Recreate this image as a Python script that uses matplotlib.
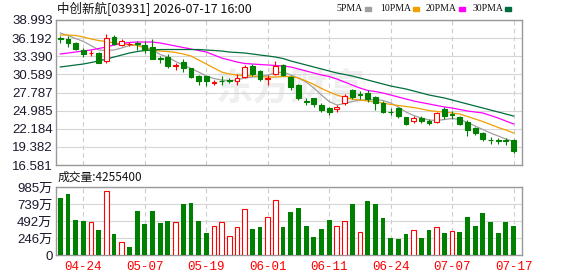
import matplotlib
matplotlib.use('Agg')
import matplotlib.pyplot as plt
from matplotlib.patches import Rectangle

plt.rcParams['font.family'] = ['Noto Sans CJK SC', 'DejaVu Sans']

# daily candles, 60 trading days
opens = [36.2, 36.05, 35.5, 34.4, 33.85, 33.9, 32.7, 36.3, 35.2, 35.25,
         35.4, 35.1, 34.8, 33.1, 33.3, 31.95, 32.5, 31.5, 30.4, 30.3,
         29.25, 29.6, 29.65, 29.5, 30.25, 31.9, 31.1, 29.9, 30.65, 32.0,
         30.2, 28.95, 26.4, 26.9, 25.85, 25.45, 25.2, 26.1, 28.2, 27.5,
         27.75, 27.1, 26.2, 24.85, 25.35, 23.95, 23.45, 23.8, 23.4, 23.3,
         25.2, 24.4, 23.95, 23.3, 22.25, 21.55, 20.5, 20.4, 20.45, 20.45]
highs = [36.5, 36.5, 35.6, 34.6, 34.3, 34.0, 36.8, 36.7, 36.0, 35.6,
         35.8, 35.7, 36.1, 33.4, 33.7, 32.4, 33.0, 31.6, 30.5, 30.4,
         29.7, 30.4, 30.0, 30.7, 32.0, 32.2, 31.3, 30.5, 32.6, 32.2,
         30.4, 29.1, 26.9, 27.0, 26.1, 25.5, 25.8, 27.5, 28.4, 28.0,
         28.15, 27.3, 26.4, 25.4, 25.6, 24.0, 24.15, 24.2, 23.7, 24.8,
         25.5, 25.0, 24.2, 23.5, 22.5, 21.7, 20.9, 20.8, 20.8, 20.6]
lows = [35.5, 34.8, 34.3, 33.2, 33.5, 32.3, 32.4, 35.1, 34.9, 34.9,
        34.3, 33.9, 32.9, 32.4, 31.6, 31.3, 31.0, 30.0, 28.9, 28.8,
        28.9, 29.0, 29.2, 29.0, 30.1, 30.3, 29.5, 29.0, 30.5, 30.3,
        28.2, 26.6, 25.8, 25.6, 24.7, 24.3, 24.8, 25.9, 26.8, 26.8,
        26.35, 25.1, 24.6, 24.3, 23.8, 22.7, 23.1, 23.1, 22.8, 23.1,
        23.7, 23.7, 22.7, 21.1, 21.2, 20.3, 19.9, 19.9, 19.7, 18.5]
closes = [36.1, 35.4, 34.5, 33.7, 33.95, 32.4, 36.2, 35.3, 35.75, 35.3,
          35.3, 34.4, 33.0, 32.95, 31.9, 32.05, 31.5, 30.25, 29.6, 29.5,
          29.35, 29.5, 29.55, 30.0, 31.7, 30.65, 29.8, 30.1, 31.9, 30.5,
          28.7, 27.0, 26.3, 26.0, 25.1, 24.8, 25.5, 27.25, 27.1, 27.35,
          26.75, 26.1, 24.85, 24.75, 24.15, 22.9, 23.8, 23.45, 23.05, 24.55,
          24.15, 24.25, 22.9, 22.0, 21.6, 20.55, 20.4, 20.3, 20.3, 18.8]

# volume in 万股, and whether the volume bar is drawn red (up day)
volumes = [830, 884, 507, 493, 473, 362, 927, 304, 183, 116,
           637, 449, 637, 464, 493, 473, 739, 753, 493, 319,
           415, 473, 275, 406, 666, 377, 406, 546, 797, 406,
           623, 681, 420, 261, 377, 507, 415, 488, 739, 328,
           782, 739, 536, 246, 232, 304, 357, 246, 357, 401,
           319, 343, 333, 550, 420, 608, 478, 319, 478, 425.54]
vol_red = [0, 0, 0, 0, 1, 0, 1, 0, 1, 0,
           0, 0, 0, 0, 0, 1, 0, 0, 0, 0,
           1, 1, 1, 1, 1, 0, 0, 1, 1, 0,
           0, 0, 0, 0, 0, 0, 1, 1, 0, 1,
           0, 0, 0, 0, 0, 0, 1, 0, 0, 1,
           0, 1, 0, 0, 0, 0, 0, 0, 0, 0]

ma5 = [36.98, 36.60, 36.13, 35.67, 35.05, 34.36, 34.28, 34.36, 34.67, 35.05,
       35.13, 34.82, 34.36, 33.66, 33.27, 32.58, 32.04, 31.50, 30.95, 30.34,
       29.95, 29.72, 29.61, 29.72, 30.03, 30.18, 30.26, 30.49, 30.80, 30.95,
       30.49, 30.03, 29.41, 28.48, 27.40, 26.39, 25.85, 26.08, 26.39, 26.63,
       26.63, 26.70, 26.55, 26.17, 25.55, 24.77, 24.23, 23.84, 23.53, 23.46,
       23.61, 23.77, 23.61, 23.15, 22.61, 22.07, 21.53, 21.06, 20.60, 20.21]
ma10 = [36.67, 36.67, 36.60, 36.37, 36.06, 35.82, 35.67, 35.44, 35.28, 35.21,
        35.05, 34.67, 34.36, 34.20, 34.12, 33.97, 33.74, 33.43, 32.81, 32.19,
        31.57, 30.95, 30.65, 30.49, 30.42, 30.34, 30.26, 30.18, 30.18, 30.26,
        30.26, 30.03, 29.57, 29.03, 28.41, 27.87, 27.40, 27.01, 26.78, 26.63,
        26.47, 26.32, 26.17, 25.93, 25.78, 25.62, 25.47, 25.24, 25.00, 24.85,
        24.77, 24.62, 24.46, 24.08, 23.69, 23.30, 22.84, 22.38, 21.99, 21.53]
ma20 = [33.74, 33.89, 34.05, 34.20, 34.36, 34.59, 34.82, 35.13, 35.36, 35.52,
        35.59, 35.59, 35.59, 35.44, 35.21, 34.97, 34.74, 34.51, 34.28, 34.05,
        33.58, 33.12, 32.81, 32.50, 32.27, 32.19, 32.11, 32.04, 31.96, 31.88,
        31.73, 31.42, 31.11, 30.80, 30.49, 30.26, 29.87, 29.41, 28.94, 28.48,
        28.10, 27.94, 27.71, 27.40, 27.09, 26.78, 26.47, 26.24, 26.01, 25.78,
        25.55, 25.39, 25.16, 24.93, 24.77, 24.62, 24.23, 23.84, 23.38, 22.92]
ma30 = [31.73, 31.88, 32.04, 32.19, 32.42, 32.66, 32.96, 33.27, 33.58, 33.89,
        34.12, 34.28, 34.35, 34.43, 34.43, 34.43, 34.43, 34.43, 34.43, 34.35,
        34.28, 34.20, 34.04, 33.97, 33.89, 33.74, 33.58, 33.43, 33.27, 33.04,
        32.66, 32.35, 32.04, 31.73, 31.42, 31.11, 30.80, 30.57, 30.34, 30.03,
        29.72, 29.41, 29.10, 28.79, 28.56, 28.33, 28.02, 27.71, 27.40, 27.17,
        26.94, 26.63, 26.32, 26.01, 25.70, 25.39, 25.08, 24.77, 24.46, 24.15]

date_pos = [3, 11, 19, 27, 35, 43, 51, 59]
date_labels = ['04-24', '05-07', '05-19', '06-01', '06-11', '06-24', '07-07', '07-17']
price_ticks = [16.581, 19.382, 22.184, 24.985, 27.787, 30.589, 33.390, 36.192, 38.993]
price_labels = ['16.581', '19.382', '22.184', '24.985', '27.787', '30.589', '33.390', '36.192', '38.993']
vol_ticks = [0, 246.25, 492.5, 738.75, 985]
vol_labels = ['0', '246万', '492万', '739万', '985万']

RED = '#ff0000'
GREEN = '#008000'
ma_colors = ['#a0a0a0', '#f0a000', '#ff00ff', '#006e3c']
ma_names = ['5PMA', '10PMA', '20PMA', '30PMA']

fig = plt.figure(figsize=(5.78, 2.76), dpi=100)
ax = fig.add_axes([56/578, 1-165/276, 466/578, 145/276])
axv = fig.add_axes([56/578, 1-255/276, 466/578, 68/276])

x = list(range(len(closes)))
w = 0.62

# watermark
ax.text(30, 28.3, '东方财富', fontsize=27, fontweight='bold', color='#efefef',
        ha='center', va='center', zorder=0)

for i in x:
    o, c = opens[i], closes[i]
    up = c >= o
    col = RED if up else GREEN
    ax.vlines(i, lows[i], highs[i], color=col, lw=0.8, zorder=3)
    h = max(abs(c - o), 0.04)
    ax.bar(i, h, bottom=min(o, c), width=w, facecolor='white' if up else GREEN,
           edgecolor=col, lw=0.8, zorder=4)

for vals, col in zip([ma5, ma10, ma20, ma30], ma_colors):
    ax.plot(x, vals, color=col, lw=0.9, zorder=2)

for i in x:
    if vol_red[i]:
        axv.bar(i, volumes[i], width=w, facecolor='white', edgecolor=RED, lw=0.8, zorder=3)
    else:
        axv.bar(i, volumes[i], width=w, color=GREEN, lw=0, zorder=3)

for a in (ax, axv):
    a.set_xlim(-0.56, 60.1)
    a.set_xticks(date_pos)
    a.grid(axis='x', color='#cccccc', lw=0.8, ls=(0, (4, 3)), zorder=1)
    a.grid(axis='y', color='#d6d6d6', lw=0.8, zorder=1)
    a.tick_params(length=0, pad=2.5)
    for s in a.spines.values():
        s.set_color('#999999')
        s.set_linewidth(1.0)

ax.set_ylim(price_ticks[0], price_ticks[-1])
ax.set_yticks(price_ticks)
ax.set_yticklabels(price_labels, fontsize=9.5, color='#1a1a2e', family=['Liberation Sans'])
ax.set_xticklabels([])

axv.set_ylim(0, 985)
axv.set_yticks(vol_ticks)
axv.set_yticklabels(vol_labels, fontsize=9.5, color='#1a1a2e',
                    family=['Liberation Sans', 'Noto Sans CJK SC'])
axv.set_xticklabels(date_labels, fontsize=9, color=RED, family=['Liberation Mono'])
axv.tick_params(axis='x', pad=4.5)

fig.text(57/578, 1-8.5/276, '中创新航[03931] 2026-07-17 16:00', fontsize=9,
         va='center', ha='left', color='#111111')
fig.text(58/578, 1-177/276, '成交量:4255400', fontsize=8.5,
         va='center', ha='left', color='#111111')

# legend: label text ends just before its colour marker
marker_x = [365, 413, 459, 505]
for mx, name, col in zip(marker_x, ma_names, ma_colors):
    fig.text((mx - 2)/578, 1-8.7/276, name, fontsize=7, family=['Liberation Serif'],
             va='center', ha='right', color='#111111')
    fig.patches.append(Rectangle((mx/578, 1-10.5/276), 6/578, 4/276, color=col,
                                 transform=fig.transFigure, figure=fig))

fig.savefig('out.png', dpi=100)
